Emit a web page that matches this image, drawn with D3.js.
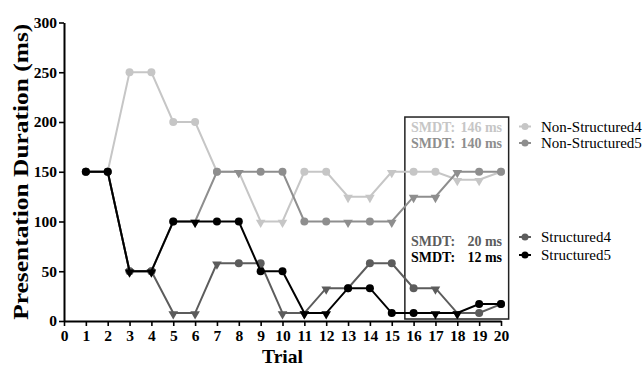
<!DOCTYPE html>
<meta charset="utf-8">
<style>
body { margin: 0; background: #fff; }
svg { font-family: "Liberation Serif", "DejaVu Serif", serif; }
</style>
<svg width="643" height="368"></svg>
<script src="https://d3js.org/d3.v7.min.js"></script>
<script>
// trial numbers and presentation durations (ms)
var trials = d3.range(1, 21);
var nonStructured4 = [150,150,250,250,200,200,150,150,100,100,150,150,125,125,150,150,150,142,142,150];
var nonStructured5 = [150,150,50,50,100,100,150,150,150,150,100,100,100,100,100,125,125,150,150,150];
var structured4    = [150,150,50,50,8,8,58,58,58,8,8,33,33,58,58,33,33,8,8,17];
var structured5    = [150,150,50,50,100,100,100,100,50,50,8,8,33,33,8,8,8,8,17,17];
// marker per trial: c = circle, t = down triangle
var shapesNs4 = "cccccccttt" + "cctttcctt" + "c";
var shapesNs5 = "ccccctctcc" + "cctcttttcc";
var shapesS4  = "cccctttcct" + "ttccccttc" + "c";
var shapesS5  = "ccttctcccc" + "ttccccttcc";
var seriesNames = ["Non-Structured4", "Non-Structured5", "Structured4", "Structured5"];
var smdtText = ["146 ms", "140 ms", "20 ms", "12 ms"];
var yTicks = [0, 50, 100, 150, 200, 250, 300];

var colors = ["#c6c6c6", "#8e8e8e", "#5c5c5c", "#000000"];
var series = [nonStructured4, nonStructured5, structured4, structured5].map(function(v, i) {
  var sh = [shapesNs4, shapesNs5, shapesS4, shapesS5][i];
  return {
    name: seriesNames[i],
    color: colors[i],
    smdt: smdtText[i],
    points: trials.map(function(t, j) { return {t: t, v: v[j], s: sh[j]}; })
  };
});

var svg = d3.select("svg");
var x = d3.scaleLinear().domain([0, 20]).range([64, 501]);
var y = d3.scaleLinear().domain([0, 300]).range([321, 22.5]);

// axes
svg.append("g")
    .attr("transform", "translate(0," + y(0) + ")")
    .call(d3.axisBottom(x).tickValues(d3.range(0, 21)).tickSize(5).tickSizeOuter(0).tickPadding(4));
svg.append("g")
    .attr("transform", "translate(" + x(0) + ",0)")
    .call(d3.axisLeft(y).tickValues(yTicks).tickSize(5).tickSizeOuter(0).tickPadding(2));

svg.selectAll(".domain").attr("stroke-width", 2);
svg.selectAll(".tick line").attr("stroke-width", 1.6);
svg.selectAll(".tick text")
    .attr("font-family", "\"Liberation Serif\", serif")
    .attr("font-size", 15.5)
    .attr("font-weight", "bold")
    .attr("fill", "#000");

svg.append("text")
    .attr("transform", "translate(28," + ((y(0) + y(300)) / 2) + ") rotate(-90)")
    .attr("text-anchor", "middle")
    .attr("font-size", 22)
    .attr("font-weight", "bold")
    .attr("textLength", 296)
    .attr("lengthAdjust", "spacingAndGlyphs")
    .text("Presentation Duration (ms)");

svg.append("text")
    .attr("x", (x(0) + x(20)) / 2)
    .attr("y", 363)
    .attr("text-anchor", "middle")
    .attr("font-size", 19.5)
    .attr("font-weight", "bold")
    .text("Trial");

// SMDT box
svg.append("rect")
    .attr("x", x(15.6))
    .attr("y", y(205))
    .attr("width", x(20.35) - x(15.6))
    .attr("height", y(2) - y(205))
    .attr("fill", "none")
    .attr("stroke", "#222")
    .attr("stroke-width", 1.5);

// lines and markers
var line = d3.line()
    .x(function(d) { return x(d.t); })
    .y(function(d) { return y(d.v); });

var tri = d3.symbol().type(d3.symbolTriangle).size(40);

var g = svg.selectAll(".series")
  .data(series)
  .enter().append("g")
    .attr("class", "series");

g.append("path")
    .attr("d", function(d) { return line(d.points); })
    .attr("fill", "none")
    .attr("stroke", function(d) { return d.color; })
    .attr("stroke-width", 2);

g.each(function(s) {
  var m = d3.select(this).selectAll(".m")
    .data(s.points)
    .enter();
  m.filter(function(d) { return d.s === "c"; }).append("circle")
      .attr("cx", function(d) { return x(d.t); })
      .attr("cy", function(d) { return y(d.v); })
      .attr("r", 4)
      .attr("fill", s.color);
  m.filter(function(d) { return d.s === "t"; }).append("path")
      .attr("d", tri)
      .attr("transform", function(d) { return "translate(" + x(d.t) + "," + (y(d.v) + 1) + ") rotate(180)"; })
      .attr("fill", s.color);
});

// SMDT text inside box
var smdtY = [132, 148, 246, 262];
series.forEach(function(s, i) {
  svg.append("text")
      .attr("x", 411)
      .attr("y", smdtY[i])
      .attr("font-size", 14)
      .attr("font-weight", "bold")
      .attr("fill", s.color)
      .text("SMDT:");
  svg.append("text")
      .attr("x", 502)
      .attr("y", smdtY[i])
      .attr("text-anchor", "end")
      .attr("font-size", 14)
      .attr("font-weight", "bold")
      .attr("fill", s.color)
      .text(s.smdt);
});

// legend
var legendY = [126.5, 143, 237, 255];
var leg = svg.selectAll(".legend")
  .data(series)
  .enter().append("g")
    .attr("transform", function(d, i) { return "translate(0," + legendY[i] + ")"; });
leg.append("line")
    .attr("x1", 519).attr("x2", 531)
    .attr("stroke", function(d) { return d.color; })
    .attr("stroke-width", 2);
leg.append("circle")
    .attr("cx", 525)
    .attr("r", 3.5)
    .attr("fill", function(d) { return d.color; });
leg.append("text")
    .attr("x", 541)
    .attr("y", 5)
    .attr("font-size", 15)
    .text(function(d) { return d.name; });
</script>
